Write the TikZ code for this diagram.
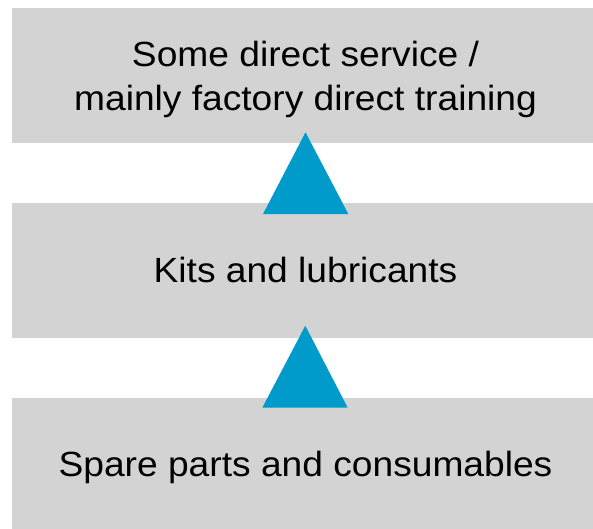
\documentclass[tikz,border=0pt]{standalone}
\usepackage{fontspec}
\setmainfont[FakeStretch=1.062]{Liberation Sans}
\definecolor{boxgray}{HTML}{D3D3D3}
\definecolor{triblue}{HTML}{009BCB}
\begin{document}
\begin{tikzpicture}[x=1pt,y=-1pt,
  box/.style={fill=boxgray,draw=none,minimum width=587pt,minimum height=135pt,inner sep=0pt,outer sep=0pt},
  lbl/.style={font=\fontsize{35}{44}\selectfont,text=black,inner sep=0pt,anchor=base},
  tri/.style={fill=triblue,draw=none}]
\useasboundingbox (0,0) rectangle (593,528);
\node[box] (topbox) at (305.5,75.5) {};
\node[box] (midbox) at (305.5,270.2) {};
\node[box] (botbox) at (305.5,465.2) {};
\node[lbl] (t1) at (305.5,66) {Some direct service /};
\node[lbl] (t2) at (305.5,110) {mainly factory direct training};
\node[lbl] (t3) at (305.5,282.3) {Kits and lubricants};
\node[lbl] (t4) at (305.5,476.7) {Spare parts and consumables};
\coordinate (a1) at (305.5,132.3);
\coordinate (b1l) at (263,214);
\coordinate (b1r) at (348.3,214);
\coordinate (a2) at (305.3,325.7);
\coordinate (b2l) at (262.3,407.7);
\coordinate (b2r) at (347.7,407.7);
\fill[tri] (b1l) -- (a1) -- (b1r) -- cycle;
\fill[tri] (b2l) -- (a2) -- (b2r) -- cycle;
\end{tikzpicture}
\end{document}
